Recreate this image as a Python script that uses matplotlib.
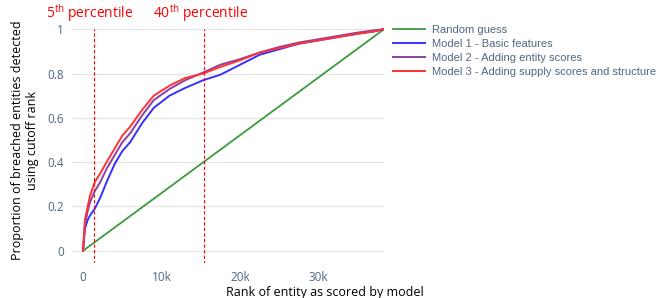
import matplotlib
matplotlib.use("Agg")
import matplotlib.pyplot as plt

### Data
rank = [0, 250, 600, 900, 1500, 2200, 3000, 4000, 5000, 6000, 7500, 9000,
        11000, 13000, 15300, 17500, 20000, 22500, 25000, 27500, 30000,
        32500, 35000, 37000, 38300]
model1 = [0, 0.10, 0.14, 0.16, 0.19, 0.24, 0.31, 0.39, 0.45, 0.49, 0.575, 0.645,
          0.70, 0.735, 0.77, 0.795, 0.84, 0.885, 0.91, 0.935, 0.95,
          0.965, 0.98, 0.99, 1.0]
model2 = [0, 0.12, 0.18, 0.22, 0.27, 0.31, 0.37, 0.43, 0.49, 0.53, 0.61, 0.68,
          0.73, 0.77, 0.805, 0.84, 0.865, 0.895, 0.92, 0.94, 0.955,
          0.97, 0.985, 0.995, 1.0]
model3 = [0, 0.14, 0.20, 0.25, 0.31, 0.35, 0.40, 0.46, 0.52, 0.56, 0.635, 0.70,
          0.745, 0.78, 0.80, 0.83, 0.86, 0.895, 0.915, 0.935, 0.95,
          0.965, 0.98, 0.99, 1.0]
random_x = [0, 38300]
random_y = [0, 1]

pct_lines = [1450, 15400]
pct_labels = ["5$^{\\mathrm{th}}$ percentile", "40$^{\\mathrm{th}}$ percentile"]
pct_label_x = [90, 201]  # label centres, pixels

y_ticks = [0, 0.2, 0.4, 0.6, 0.8, 1]
y_ticklabels = ["0", "0.2", "0.4", "0.6", "0.8", "1"]
x_ticks = [0, 10000, 20000, 30000]
x_ticklabels = ["0", "10k", "20k", "30k"]

### Style
plt.rcParams['font.family'] = ['Open Sans', 'DejaVu Sans']
plt.rcParams['mathtext.fontset'] = 'custom'
plt.rcParams['mathtext.rm'] = 'Open Sans'
tick_col = '#506784'

fig = plt.figure(figsize=(6.58, 2.98), dpi=100)
ax = fig.add_axes([72/658, 35/298, 312/658, 236/298])

### Lines
ax.plot(random_x, random_y, color='#3c9a3c', lw=1.3, label="Random guess")
ax.plot(rank, model1, color='#3333ff', lw=1.4, label="Model 1 - Basic features")
ax.plot(rank, model2, color='#8e3fa0', lw=1.4, label="Model 2 - Adding entity scores")
ax.plot(rank, model3, color='#ff3333', lw=1.4, label="Model 3 - Adding supply scores and structure")

### Percentile markers
for xv, lab, lx in zip(pct_lines, pct_labels, pct_label_x):
    ax.plot([xv, xv], [-0.06, 1.0], color='red', lw=0.8, ls=(0, (3, 2)))
    fig.text(lx/658, 1 - 13/298, lab, color='red', fontsize=10, ha='center', va='center')

### Decorate
ax.set_xlim(-1400, 38300)
ax.set_ylim(-0.055, 1.01)
ax.set_yticks(y_ticks)
ax.set_yticklabels(y_ticklabels)
ax.set_xticks(x_ticks)
ax.set_xticklabels(x_ticklabels)
ax.tick_params(length=0, labelsize=8.5, labelcolor=tick_col, pad=6)
ax.yaxis.grid(True, color='#e6e6e6', lw=1)
ax.set_axisbelow(True)
for s in ax.spines.values():
    s.set_visible(False)

fig.text(25/658, 1 - 140/298, "Proportion of breached entities detected\nusing cutoff rank",
         rotation=90, ha='center', va='center', multialignment='center', fontsize=9)
fig.text(325/658, 1 - 286/298, "Rank of entity as scored by model",
         ha='center', va='top', fontsize=9)

fig.legend(loc='upper left', bbox_to_anchor=(393/658, 1 - 25/298), frameon=False,
           prop={'family': 'Liberation Sans', 'size': 8.0},
           handlelength=2.9, handletextpad=0.6, labelspacing=0.35,
           labelcolor=tick_col, borderaxespad=0, borderpad=0)

fig.savefig("out.png", dpi=100)
